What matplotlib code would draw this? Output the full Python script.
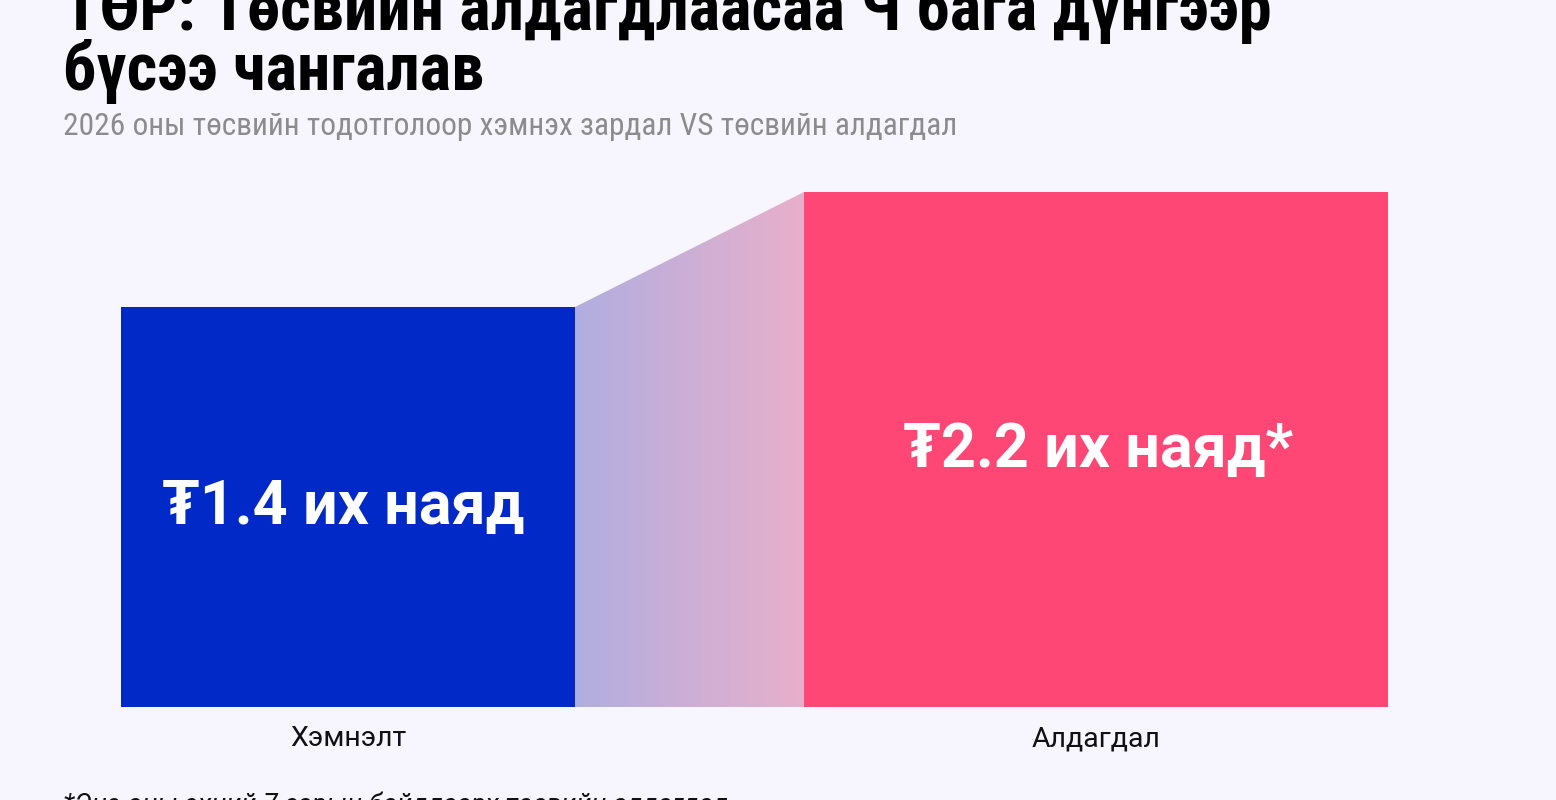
import numpy as np
import matplotlib.pyplot as plt
from matplotlib.patches import Polygon
from matplotlib.colors import LinearSegmentedColormap

# data
categories = ["Хэмнэлт", "Алдагдал"]
values = [1.4, 2.2]
value_labels = ["₮1.4 их наяд", "₮2.2 их наяд*"]
bar_colors = ["#0029c7", "#ff4775"]

title = "ТӨР: Төсвийн алдагдлаасаа Ч бага дүнгээр\nбүсээ чангалав"
subtitle = "2026 оны төсвийн тодотголоор хэмнэх зардал VS төсвийн алдагдал"
footnote = "*Энэ оны эхний 7 сарын байдлаарх төсвийн алдагдал"

BG = "#f7f6fe"
BASE = -1.382   # visual baseline (the chart is not zero-based)

# bar geometry in horizontal pixel units of the plot area
lefts = [0, 683]
widths = [454, 584]
label_shift = [-5, 2]

W, H = 1556, 800
fig = plt.figure(figsize=(W / 100, H / 100), dpi=100, facecolor=BG)
ax = fig.add_axes([121 / W, 93 / H, (1388 - 121) / W, (707 - 192) / H])
ax.set_facecolor(BG)

fam_cond = ["Roboto Condensed", "Roboto", "DejaVu Sans"]
fam_reg = ["Roboto", "DejaVu Sans"]

ax.bar(lefts, [v - BASE for v in values], width=widths, bottom=BASE,
       align="edge", color=bar_colors, linewidth=0, zorder=2)

# gradient connector between the bars
x0 = lefts[0] + widths[0]
x1 = lefts[1]
cmap = LinearSegmentedColormap.from_list("conn", ["#b0aee0", "#e8b0cb"])
grad = np.linspace(0, 1, 256).reshape(1, -1)
im = ax.imshow(grad, cmap=cmap, extent=[x0, x1, BASE, values[1]],
               aspect="auto", zorder=1)
poly = Polygon([(x0, BASE), (x0, values[0]), (x1, values[1]), (x1, BASE)],
               closed=True, transform=ax.transData, facecolor="none", edgecolor="none")
ax.add_patch(poly)
im.set_clip_path(poly)

ax.set_xlim(0, lefts[1] + widths[1])
ax.set_ylim(BASE, values[1])

for l, w, v, lab, dx in zip(lefts, widths, values, value_labels, label_shift):
    ax.text(l + w / 2 + dx, (BASE + v) / 2, lab, ha="center", va="center",
            color="white", fontsize=44, fontweight="bold", family=fam_reg, zorder=3)

ax.set_xticks([l + w / 2 for l, w in zip(lefts, widths)])
ax.set_xticklabels(categories, fontsize=20.5, family=fam_reg, color="#111111")
ax.tick_params(axis="x", length=0, pad=13)
ax.set_yticks([])
for s in ax.spines.values():
    s.set_visible(False)

fig.text(63 / W, 1 - 90 / H, title, ha="left", va="baseline", fontsize=48,
         fontweight="bold", family=fam_cond, color="black", linespacing=0.9)
fig.text(63 / W, 1 - 135 / H, subtitle, ha="left", va="baseline", fontsize=22.6,
         family=fam_cond, color="#8c8c8c")
fig.text(63 / W, 1 - 813 / H, footnote, ha="left", va="baseline", fontsize=19.4,
         family=fam_reg, style="italic", color="#111111")

fig.savefig("out.png", dpi=100, facecolor=BG)
